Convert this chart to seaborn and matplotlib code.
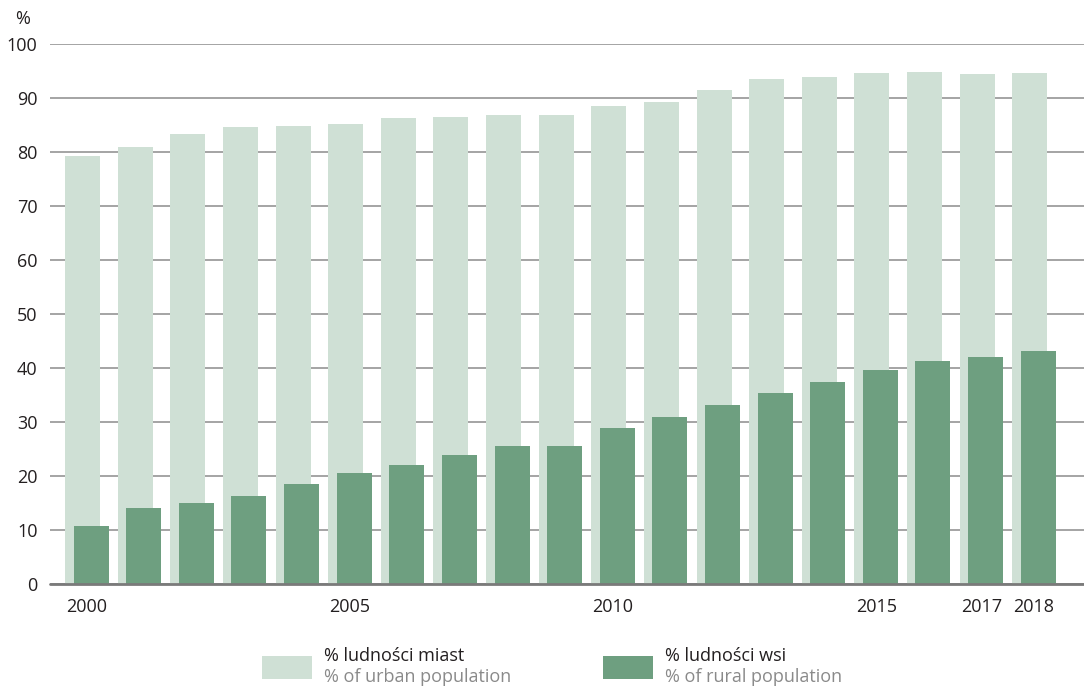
import matplotlib
matplotlib.use('Agg')
import matplotlib.pyplot as plt
import seaborn as sns
import pandas as pd
from matplotlib.patches import Rectangle

# dane
years = [2000, 2001, 2002, 2003, 2004, 2005, 2006, 2007, 2008, 2009,
         2010, 2011, 2012, 2013, 2014, 2015, 2016, 2017, 2018]
urban = [79.3, 80.9, 83.3, 84.6, 84.8, 85.2, 86.3, 86.5, 86.9, 86.9,
         88.5, 89.3, 91.5, 93.5, 93.9, 94.6, 94.8, 94.4, 94.6]
rural = [10.7, 14.1, 15.0, 16.3, 18.5, 20.6, 22.0, 23.9, 25.6, 25.6,
         28.9, 30.9, 33.1, 35.4, 37.4, 39.6, 41.3, 42.0, 43.1]
tick_years = [2000, 2005, 2010, 2015, 2017, 2018]

urban_label = ['% ludności miast', '% of urban population']
rural_label = ['% ludności wsi', '% of rural population']

URBAN_COLOR = '#cfe0d5'
RURAL_COLOR = '#6e9f80'
GRID_COLOR = '#8c8c8c'

sns.set_style('white')
plt.rcParams['font.family'] = ['Open Sans', 'DejaVu Sans']

df = pd.DataFrame({'year': years, 'urban': urban, 'rural': rural})
shift = 0.08
df['x_urban'] = df['year'] - shift
df['x_rural'] = df['year'] + shift

fig = plt.figure(figsize=(10.84, 6.87), dpi=100)
ax = fig.add_axes([50 / 1084, 103 / 687, 1 - 50 / 1084, 540 / 687])

sns.barplot(data=df, x='x_urban', y='urban', native_scale=True, width=0.665,
            color=URBAN_COLOR, saturation=1, linewidth=0, errorbar=None, ax=ax)
sns.barplot(data=df, x='x_rural', y='rural', native_scale=True, width=0.665,
            color=RURAL_COLOR, saturation=1, linewidth=0, errorbar=None, ax=ax)

ax.set_xlim(2000 - 0.70, 2018 + 0.95)
ax.set_ylim(0, 100)
ax.set_yticks(range(0, 101, 10))
ax.set_xticks(tick_years)
ax.set_xticklabels([str(y) for y in tick_years])
ax.set_xlabel('')
ax.set_ylabel('')

ax.set_axisbelow(True)
ax.yaxis.grid(True, color=GRID_COLOR, linewidth=1.1)
ax.xaxis.grid(False)
ax.axhline(0, color='#7a7a7a', linewidth=2, zorder=5, clip_on=False)
sns.despine(ax=ax, left=True, bottom=True)

ax.tick_params(axis='y', length=0, pad=9, labelsize=13, labelcolor='#231f20')
ax.tick_params(axis='x', length=0, pad=10, labelsize=13, labelcolor='#231f20')

fig.text(23 / 1084, 1 - 19 / 687, '%', ha='center', va='center',
         fontsize=13, color='#231f20')

# legenda
for x0, color, labels in [(262, URBAN_COLOR, urban_label),
                          (603, RURAL_COLOR, rural_label)]:
    fig.add_artist(Rectangle((x0 / 1084, 1 - 679 / 687), 50 / 1084, 23 / 687,
                             transform=fig.transFigure, facecolor=color,
                             edgecolor='none'))
    fig.text((x0 + 62) / 1084, 1 - 656 / 687, labels[0], ha='left',
             va='center', fontsize=13, color='#231f20')
    fig.text((x0 + 62) / 1084, 1 - 677 / 687, labels[1], ha='left',
             va='center', fontsize=13, color='#8a8a8a')

fig.savefig('out.png', dpi=100)
